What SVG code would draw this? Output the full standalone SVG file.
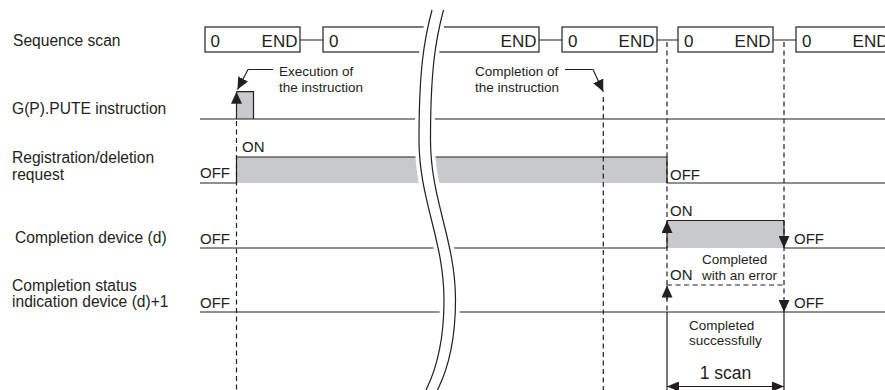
<svg xmlns="http://www.w3.org/2000/svg" width="885" height="390" viewBox="0 0 885 390">
<defs>
<style>
.ln{stroke:#231f20;stroke-width:1.2;fill:none}
.ds{stroke:#231f20;stroke-width:1.2;fill:none;stroke-dasharray:5 3.5}
.gr{fill:#c8c9ca}
.bx{fill:#fff;stroke:#231f20;stroke-width:1.2}
.brk{stroke:#fff;stroke-width:20;fill:none}
text{font-family:"Liberation Sans",Arial,sans-serif;fill:#231f20}
.lb{font-size:15.6px}
.st{font-size:15px}
.sm{font-size:13.5px}
.bt{font-size:17px}
.big{font-size:17.5px}
</style>
<marker id="ah" markerUnits="userSpaceOnUse" markerWidth="12" markerHeight="11" refX="12" refY="5.5" orient="auto"><path d="M0,0 L12,5.5 L0,11 z" fill="#231f20"/></marker>
<marker id="ahs" markerUnits="userSpaceOnUse" markerWidth="12" markerHeight="10" refX="12" refY="5" orient="auto-start-reverse"><path d="M0,0 L12,5 L0,10 z" fill="#231f20"/></marker>
<path id="brkline" d="M432,10 C424,40 419,70 419,140 C419,200 444,240 444,300 C444,340 436,370 426,390"/>
</defs>

<g id="labels">
<text class="lb" x="13" y="46">Sequence scan</text>
<text class="lb" x="12" y="114">G(P).PUTE instruction</text>
<text class="lb" x="12" y="162.5">Registration/deletion</text>
<text class="lb" x="12" y="179.5">request</text>
<text class="lb" x="15" y="243">Completion device (d)</text>
<text class="lb" x="12" y="290.5">Completion status</text>
<text class="lb" x="12" y="307">indication device (d)+1</text>
</g>

<g id="fills">
<rect class="gr" x="236.5" y="91.7" width="17" height="27.3"/>
<rect class="gr" x="236.5" y="157" width="430.5" height="26"/>
<rect class="gr" x="667" y="220.5" width="117" height="27.5"/>
</g>

<g id="sequence-scan">
<rect class="bx" x="205" y="27" width="95" height="25"/>
<rect class="bx" x="323" y="27" width="216" height="25"/>
<rect class="bx" x="562" y="27" width="95" height="25"/>
<rect class="bx" x="678" y="27" width="95" height="25"/>
<rect class="bx" x="796" y="27" width="95" height="25"/>
<path class="ln" d="M300,40 H323 M539,40 H562 M657,40 H678 M773,40 H796"/>
<text class="bt" x="210.5" y="46.5">0</text>
<text class="bt" x="297.5" y="46.5" text-anchor="end">END</text>
<text class="bt" x="329" y="46.5">0</text>
<text class="bt" x="536.5" y="46.5" text-anchor="end">END</text>
<text class="bt" x="568" y="46.5">0</text>
<text class="bt" x="654.5" y="46.5" text-anchor="end">END</text>
<text class="bt" x="684" y="46.5">0</text>
<text class="bt" x="770.5" y="46.5" text-anchor="end">END</text>
<text class="bt" x="802" y="46.5">0</text>
<text class="bt" x="888.5" y="46.5" text-anchor="end">END</text>
</g>

<g id="pute-instruction">
<path class="ln" d="M200,119 H885 M236.5,91.7 H253.5 V119"/>
</g>

<g id="registration-request">
<path class="ln" d="M200,183 H236.5 V157 H667 V183 H885"/>
<text class="st" x="200" y="178">OFF</text>
<text class="st" x="242" y="152">ON</text>
<text class="st" x="670" y="180">OFF</text>
</g>

<g id="completion-device">
<path class="ln" d="M200,248 H667 M667,220.5 H784 M784,248 H885"/>
<text class="st" x="200" y="244">OFF</text>
<text class="st" x="670" y="216">ON</text>
<text class="st" x="794" y="244">OFF</text>
</g>

<g id="completion-status">
<path class="ln" d="M200,312 H885"/>
<path class="ds" d="M667,285 H784"/>
<text class="st" x="200" y="308">OFF</text>
<text class="st" x="670" y="280">ON</text>
<text class="st" x="794" y="308">OFF</text>
<text class="sm" x="702" y="264">Completed</text>
<text class="sm" x="702" y="279.5">with an error</text>
<text class="sm" x="689" y="330">Completed</text>
<text class="sm" x="689" y="345">successfully</text>
</g>

<g id="break">
<use href="#brkline" class="brk" transform="translate(5.75,0)"/>
<use href="#brkline" class="ln"/>
<use href="#brkline" class="ln" transform="translate(11.5,0)"/>
</g>

<g id="connectors">
<path class="ds" d="M236.5,121 V390 M603.3,97 V390 M667,42 V312 M784,42 V312"/>
<path class="ln" d="M667,312 V390 M784,312 V390"/>
<path class="ln" d="M236.5,119 V91.7" marker-end="url(#ah)"/>
<path class="ln" d="M667,248 V221" marker-end="url(#ah)"/>
<path class="ln" d="M784,220.5 V248" marker-end="url(#ah)"/>
<path class="ln" d="M667,300 V285.5" marker-end="url(#ah)"/>
<path class="ln" d="M784,300 V312" marker-end="url(#ah)"/>
<path class="ln" d="M273,69.5 H248 L237.5,89.5" marker-end="url(#ah)"/>
<path class="ln" d="M565,69.5 H593 L603.3,91.7" marker-end="url(#ah)"/>
<path class="ln" d="M667,386.5 H784" marker-start="url(#ahs)" marker-end="url(#ahs)"/>
<text class="sm" x="279" y="76">Execution of</text>
<text class="sm" x="279" y="92">the instruction</text>
<text class="sm" x="475" y="76">Completion of</text>
<text class="sm" x="475" y="92">the instruction</text>
<text class="big" x="725.5" y="379" text-anchor="middle">1 scan</text>
</g>
</svg>
